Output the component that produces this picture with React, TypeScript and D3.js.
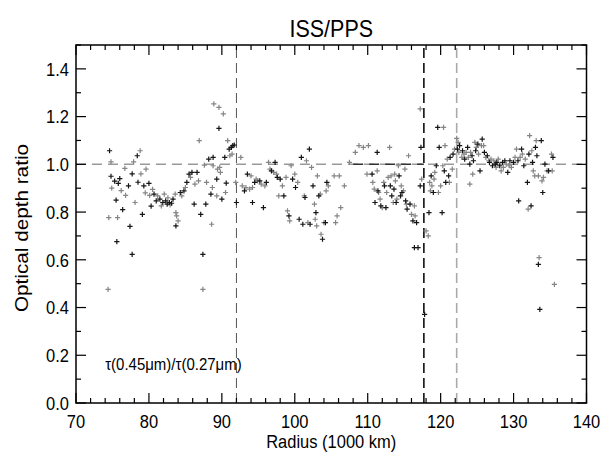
import React from "react";
import * as d3 from "d3";

// Radius (1000 km), optical depth ratio
const darkPoints: [number, number][] = [
  [74.6, 1.057], [74.8, 0.95], [75.3, 0.93], [75.5, 0.85], [75.6, 0.676], [75.8, 0.92],
  [76.0, 0.94], [76.4, 0.81], [77.2, 0.91], [77.4, 0.74], [77.7, 0.623], [77.7, 0.96],
  [78.4, 1.036], [78.5, 0.925], [79.1, 0.79], [79.3, 0.91], [80.0, 0.92], [80.3, 0.825],
  [80.7, 0.875], [81.0, 0.847], [81.5, 0.854], [81.9, 0.84], [82.3, 0.847], [82.5, 0.833],
  [82.8, 0.84], [83.1, 0.837], [83.3, 0.854], [83.7, 0.742], [84.3, 0.882], [84.8, 0.889],
  [85.2, 0.924], [85.5, 0.959], [85.9, 0.966], [86.2, 0.833], [86.6, 0.966], [87.1, 0.79],
  [87.4, 0.623], [87.8, 0.833], [88.2, 1.022], [88.5, 0.875], [88.8, 1.029], [89.3, 0.938],
  [89.6, 1.151], [90.0, 0.854], [90.4, 1.029], [90.6, 0.921], [91.0, 1.064], [91.3, 1.071],
  [91.5, 1.078], [91.7, 1.081], [92.0, 0.84], [93.1, 0.889], [93.5, 0.959], [94.2, 0.84],
  [94.5, 0.924], [95.2, 0.931], [95.7, 0.819], [96.1, 0.924], [96.8, 0.973], [97.3, 1.008],
  [97.6, 0.945], [98.0, 0.938], [98.5, 0.868], [99.2, 0.784], [99.7, 0.938], [100.1, 0.903],
  [100.6, 0.77], [100.9, 1.029], [101.1, 0.749], [101.4, 0.861], [102.0, 1.064], [102.1, 0.749],
  [102.5, 0.91], [102.9, 0.798], [103.3, 0.868], [103.8, 0.686], [104.2, 0.756], [104.4, 0.924],
  [110.6, 0.959], [111.0, 0.84], [111.3, 1.05], [111.4, 0.889], [111.8, 0.826], [112.3, 0.91],
  [112.5, 0.819], [113.1, 0.91], [113.3, 0.868], [113.6, 0.896], [113.9, 0.84], [114.3, 0.952],
  [114.5, 0.868], [114.7, 0.882], [115.2, 0.847], [115.4, 0.812], [115.8, 0.833], [116.2, 0.763],
  [116.4, 0.651], [116.7, 0.756], [116.9, 0.651], [117.2, 0.91], [117.3, 1.071], [117.8, 0.371],
  [118.4, 0.798], [118.7, 0.952], [119.0, 0.882], [119.4, 0.994], [119.6, 1.155], [119.8, 1.071],
  [120.2, 0.798], [120.5, 0.973], [120.7, 0.924], [121.1, 0.952], [121.3, 1.029], [121.7, 1.043],
  [122.3, 1.064], [122.6, 1.078], [123.0, 1.057], [123.3, 1.022], [123.7, 1.071], [124.0, 1.001],
  [124.3, 1.036], [124.5, 1.015], [124.8, 1.057], [125.1, 1.085], [125.4, 0.973], [125.7, 1.106],
  [126.0, 1.05], [126.4, 1.036], [126.7, 1.008], [127.1, 0.994], [127.5, 1.001], [127.7, 1.008],
  [128.1, 0.994], [128.5, 1.008], [128.8, 1.015], [129.2, 0.966], [129.5, 1.015], [130.0, 1.008],
  [130.6, 1.015], [130.7, 0.847], [131.1, 1.064], [131.4, 0.994], [131.9, 0.924], [132.1, 1.043],
  [132.4, 0.826], [132.6, 1.008], [133.0, 1.071], [133.2, 1.036], [133.4, 0.581], [133.6, 0.392],
  [133.8, 1.099], [134.0, 0.882], [134.3, 1.001], [134.8, 0.973], [135.4, 1.029],
];

const grayPoints: [number, number][] = [
  [74.4, 0.476], [74.5, 0.777], [74.8, 1.01], [74.9, 0.90], [75.7, 0.777], [76.2, 0.89],
  [76.7, 0.983], [76.8, 0.87], [77.9, 1.01], [78.1, 0.84], [78.8, 1.057], [78.9, 0.96],
  [79.5, 0.88], [79.6, 0.98], [80.1, 0.87], [80.5, 0.895], [81.2, 0.868], [81.7, 0.826],
  [82.1, 0.875], [82.6, 0.86], [82.9, 0.83], [83.6, 0.875], [83.7, 0.798], [83.8, 0.784],
  [84.0, 0.763], [84.5, 0.868], [85.0, 0.903], [85.7, 0.945], [86.3, 0.917], [86.8, 0.931],
  [86.9, 1.099], [87.4, 0.476], [87.6, 0.997], [87.9, 0.924], [88.6, 0.749], [88.7, 0.903],
  [88.8, 0.994], [88.9, 1.253], [89.3, 0.868], [89.4, 0.98], [89.6, 1.239], [89.7, 0.987],
  [89.8, 0.966], [90.2, 1.211], [90.5, 0.882], [90.8, 1.099], [91.1, 1.036], [91.4, 1.043],
  [91.9, 0.924], [92.6, 1.029], [92.8, 0.91], [93.3, 0.903], [93.8, 0.896], [94.0, 0.952],
  [94.2, 0.903], [94.7, 0.938], [94.9, 0.931], [95.4, 0.917], [95.9, 0.91], [96.4, 1.008],
  [96.6, 0.98], [97.1, 0.966], [97.5, 0.959], [97.8, 0.868], [98.3, 0.91], [98.8, 0.945],
  [99.0, 0.805], [99.3, 0.763], [99.5, 0.994], [100.0, 0.959], [100.4, 0.924], [101.3, 0.868],
  [101.6, 1.015], [101.8, 0.756], [102.3, 0.987], [102.7, 0.833], [102.8, 0.77], [103.0, 0.742],
  [103.1, 0.952], [103.5, 0.875], [103.6, 0.707], [104.0, 0.756], [104.3, 0.889], [104.6, 0.91],
  [105.4, 0.952], [105.6, 0.756], [105.8, 0.784], [106.1, 0.952], [106.3, 0.819], [106.8, 0.91],
  [107.5, 1.008], [108.3, 1.05], [108.8, 1.078], [109.4, 1.071], [109.9, 0.959], [110.1, 1.078],
  [110.7, 0.924], [110.9, 0.896], [111.3, 0.973], [111.5, 0.882], [111.7, 0.854], [112.0, 0.819],
  [112.2, 0.924], [112.6, 0.882], [112.8, 0.945], [113.0, 1.071], [113.2, 0.952], [113.5, 0.84],
  [113.7, 0.959], [113.8, 0.931], [114.0, 0.854], [114.2, 0.994], [114.6, 0.91], [114.9, 0.889],
  [115.1, 0.98], [115.3, 0.833], [115.6, 1.036], [116.0, 0.79], [116.4, 0.826], [116.5, 0.784],
  [117.2, 1.232], [117.4, 0.938], [118.0, 0.721], [118.3, 0.70], [118.5, 0.924], [118.6, 0.889],
  [118.8, 0.91], [119.1, 0.938], [119.2, 0.966], [119.7, 0.882], [120.0, 0.91], [120.3, 0.994],
  [120.4, 1.155], [120.6, 1.078], [120.9, 1.022], [121.2, 0.924], [121.6, 0.98], [121.9, 1.064],
  [122.2, 1.109], [122.4, 1.092], [122.5, 1.05], [122.9, 1.029], [123.2, 1.043], [123.5, 1.05],
  [123.8, 1.029], [124.0, 0.917], [124.1, 1.05], [124.4, 0.959], [124.7, 1.092], [124.9, 1.071],
  [125.2, 1.043], [125.6, 1.078], [125.9, 1.078], [126.2, 1.029], [126.6, 1.015], [126.9, 1.022],
  [127.3, 1.015], [127.6, 0.987], [127.9, 1.022], [128.3, 0.973], [128.6, 0.987], [129.0, 1.001],
  [129.4, 0.994], [129.7, 0.987], [130.2, 1.029], [130.4, 1.064], [130.9, 1.029], [131.2, 1.043],
  [131.6, 1.022], [132.0, 0.812], [132.2, 1.12], [132.5, 1.057], [132.7, 0.973], [132.9, 0.952],
  [133.1, 1.099], [133.4, 0.952], [133.5, 0.609], [133.9, 0.931], [134.1, 0.945], [134.6, 0.973],
  [135.2, 1.043], [135.3, 0.973], [135.6, 0.497],
];

const xTicks = [70, 80, 90, 100, 110, 120, 130, 140];
const yTicks = [0.0, 0.2, 0.4, 0.6, 0.8, 1.0, 1.2, 1.4];
const xMinor = d3.range(70, 140.001, 2);
const yMinor = d3.range(0, 1.5001, 0.1);

const refRatio = 1.0;
const boundaryA = 92.0;
const boundaryB = 117.7;
const boundaryC = 122.2;
const darkRefStart = 108.0;

const W = 607;
const H = 455;
const M = { left: 76, right: 586.5, top: 45, bottom: 403 };
const FONT = "'Liberation Sans', Arial, Helvetica, sans-serif";
const STRETCH = 1.12;

function Plus({ x, y, color }: { x: number; y: number; color: string }) {
  const r = 2.6;
  return (
    <path d={`M${x - r},${y}H${x + r}M${x},${y - r}V${y + r}`} stroke={color} strokeWidth={1.2} />
  );
}

function T({ x, y, size, anchor = "start", children, rotate = false }: any) {
  const tr = rotate
    ? `translate(${x},${y}) rotate(-90) scale(${STRETCH},1)`
    : `translate(${x},${y}) scale(1,${STRETCH})`;
  return (
    <text transform={tr} textAnchor={anchor} fontSize={size} fill="#000">
      {children}
    </text>
  );
}

export default function App() {
  const x = d3.scaleLinear().domain([70, 140]).range([M.left, M.right]);
  const y = d3.scaleLinear().domain([0, 1.5]).range([M.bottom, M.top]);
  const maj = 10;
  const mn = 5;
  return (
    <svg width={W} height={H} style={{ position: "absolute", left: 0, top: 0, background: "#fff" }} fontFamily={FONT}>
      <rect x={0} y={0} width={W} height={H} fill="#fff" />
      {/* reference lines */}
      <line x1={x(70)} x2={x(140)} y1={y(refRatio)} y2={y(refRatio)} stroke="#9a9a9a" strokeWidth={1.5} strokeDasharray="10,6" />
      <line x1={x(darkRefStart)} x2={x(boundaryB)} y1={y(refRatio)} y2={y(refRatio)} stroke="#333" strokeWidth={1.5} strokeDasharray="10,6" />
      <line x1={x(boundaryA)} x2={x(boundaryA)} y1={y(0)} y2={y(1.5)} stroke="#555" strokeWidth={1} strokeDasharray="10,5" />
      <line x1={x(boundaryB)} x2={x(boundaryB)} y1={y(0)} y2={y(1.5)} stroke="#111" strokeWidth={1.6} strokeDasharray="10,5" />
      <line x1={x(boundaryC)} x2={x(boundaryC)} y1={y(0)} y2={y(1.5)} stroke="#aaa" strokeWidth={1.6} strokeDasharray="10,5" />

      {/* points */}
      {grayPoints.map(([a, b], i) => (
        <Plus key={"g" + i} x={x(a)} y={y(b)} color="#858585" />
      ))}
      {darkPoints.map(([a, b], i) => (
        <Plus key={"d" + i} x={x(a)} y={y(b)} color="#151515" />
      ))}

      {/* frame */}
      <rect x={M.left} y={M.top} width={M.right - M.left} height={M.bottom - M.top} fill="none" stroke="#000" strokeWidth={1.5} />

      {/* ticks */}
      {xMinor.map((t) => {
        const isMaj = Math.abs(t % 10) < 1e-6;
        const len = isMaj ? maj : mn;
        return (
          <g key={"xt" + t}>
            <line x1={x(t)} x2={x(t)} y1={M.bottom} y2={M.bottom - len} stroke="#000" strokeWidth={1.2} />
            <line x1={x(t)} x2={x(t)} y1={M.top} y2={M.top + len} stroke="#000" strokeWidth={1.2} />
          </g>
        );
      })}
      {yMinor.map((t, i) => {
        const isMaj = i % 2 === 0;
        const len = isMaj ? maj : mn;
        return (
          <g key={"yt" + i}>
            <line x1={M.left} x2={M.left + len} y1={y(t)} y2={y(t)} stroke="#000" strokeWidth={1.2} />
            <line x1={M.right} x2={M.right - len} y1={y(t)} y2={y(t)} stroke="#000" strokeWidth={1.2} />
          </g>
        );
      })}

      {/* tick labels */}
      {xTicks.map((t) => (
        <T key={"xl" + t} x={x(t)} y={M.bottom + 25} size={16.5} anchor="middle">
          {t}
        </T>
      ))}
      {yTicks.map((t) => (
        <T key={"yl" + t} x={M.left - 7} y={y(t) + 6.8} size={16.5} anchor="end">
          {t.toFixed(1)}
        </T>
      ))}

      {/* titles */}
      <T x={(M.left + M.right) / 2} y={37} size={21.5} anchor="middle">
        ISS/PPS
      </T>
      <T x={(M.left + M.right) / 2} y={448} size={16.5} anchor="middle">
        Radius (1000 km)
      </T>
      <T x={28} y={228} size={18.5} anchor="middle" rotate>
        Optical depth ratio
      </T>
      <T x={x(74.0)} y={y(0.14)} size={15} anchor="start">
        τ(0.45μm)/τ(0.27μm)
      </T>
    </svg>
  );
}
